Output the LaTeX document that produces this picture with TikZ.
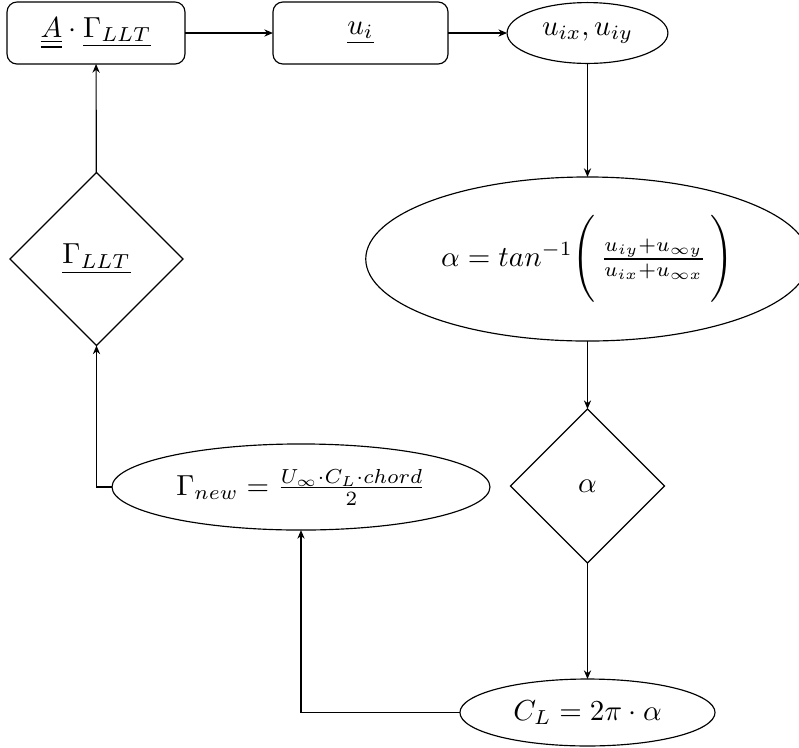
\documentclass[tikz,border=0pt]{standalone}
\usetikzlibrary{shapes.geometric,arrows.meta}
\begin{document}
\begin{tikzpicture}[x=0.345pt,y=-0.345pt, line width=0.4pt,
  every node/.style={inner sep=0pt, outer sep=0pt},
  rbox/.style={draw, rectangle, rounded corners=3.45pt, minimum width=61.4pt, minimum height=21.4pt},
  ell/.style={draw, ellipse},
  dia/.style={draw, diamond, aspect=1},
  conn/.style={-{Stealth[length=3pt,width=2.5pt]}}]
\useasboundingbox (0,0) rectangle (799,748);
\node[rbox] (A) at (96,33) {$\underline{\underline{A}}\cdot\underline{\Gamma_{LLT}}$};
\node[rbox, minimum width=60.4pt] (ui) at (360.5,33) {$\underline{u_i}$};
\node[ell, minimum width=55.5pt, minimum height=21pt] (uxy) at (587.5,33) {$u_{ix},u_{iy}$};
\node[ell, minimum width=153pt, minimum height=56.6pt] (tan) at (587.5,259)
  {$\alpha = tan^{-1}\Bigg(\,\frac{u_{iy}+u_{\infty y}}{u_{ix}+u_{\infty x}}\,\Bigg)$};
\node[dia, minimum width=53.1pt, minimum height=53.1pt] (alpha) at (587.5,486) {$\alpha$};
\node[ell, minimum width=88pt, minimum height=23.1pt] (cl) at (587.5,712.5) {$C_L = 2\pi\cdot\alpha$};
\node[ell, minimum width=130.4pt, minimum height=29.7pt] (gnew) at (301,487) {$\Gamma_{new} = \frac{U_\infty\cdot C_L\cdot chord}{2}$};
\node[dia, minimum width=59.7pt, minimum height=59.7pt] (gllt) at (96.5,259) {$\underline{\Gamma_{LLT}}$};
\draw[conn] (A) -- (ui);
\draw[conn] (ui) -- (uxy);
\draw[conn] (uxy) -- (tan);
\draw[conn] (tan) -- (alpha);
\draw[conn] (alpha) -- (cl);
\draw[conn] (cl.west) -| (gnew.south);
\draw[conn] (gnew.west) -| (gllt.south);
\draw[conn] (gllt) -- (A);
\end{tikzpicture}
\end{document}
